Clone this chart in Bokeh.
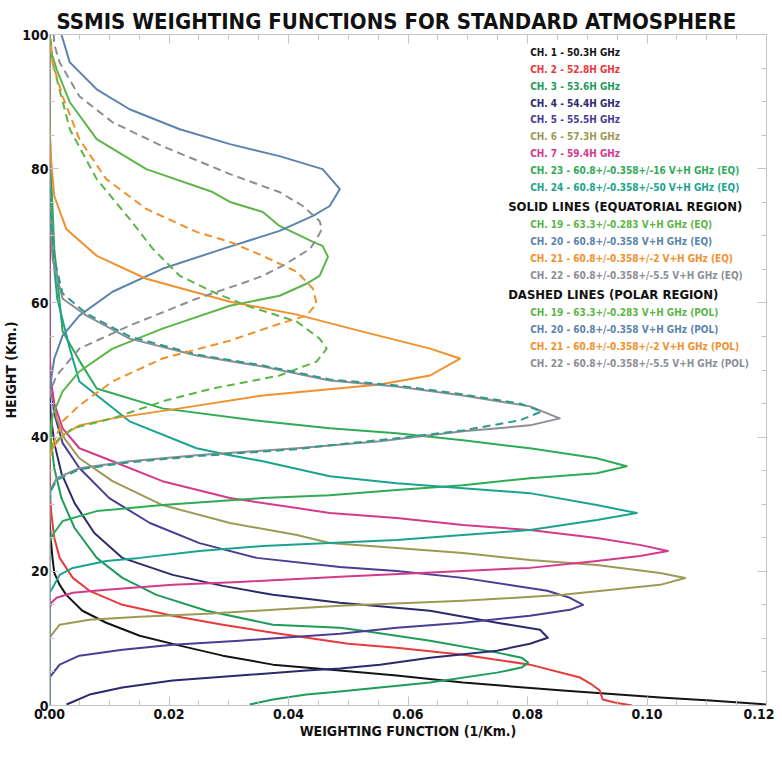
from bokeh.plotting import figure
from bokeh.models import LinearAxis, FixedTicker, ColumnDataSource, Range1d
from bokeh.embed import file_html
from bokeh.resources import INLINE
from bokeh.core.properties import value

FONT = "DejaVu Sans Condensed"

# ---- data: heights (km) and weighting-function values (1/km) ----
ch1_h = [0.15, 0.74, 1.19, 2.23, 3.42, 4.46, 5.2, 6.09, 7.43, 8.92, 10.4, 12.33, 14.12, 16.49, 17.98, 19.76, 22.0, 24.96, 27.93, 100.0]
ch1_w = [0.1199, 0.1106, 0.1022, 0.0859, 0.0692, 0.0581, 0.0486, 0.0374, 0.029, 0.0218, 0.0151, 0.0095, 0.0055, 0.0028, 0.0017, 0.0008, 0.0005, 0.0002, 0.0, 0.0]

ch2_h = [0.0, 0.45, 0.89, 1.63, 2.23, 3.1, 4.16, 6.09, 7.58, 8.62, 9.2, 10.85, 12.04, 13.37, 15.0, 17.09, 19.02, 22.0, 24.96, 28.68, 32.4, 100.0]
ch2_w = [0.0975, 0.0946, 0.0926, 0.0923, 0.0921, 0.0908, 0.0888, 0.0804, 0.0692, 0.0581, 0.05, 0.0374, 0.029, 0.0206, 0.0122, 0.0067, 0.0039, 0.0017, 0.0008, 0.0003, 0.0, 0.0]

ch3_h = [0.15, 0.89, 1.63, 2.08, 2.67, 3.42, 4.9, 5.65, 6.39, 7.13, 7.88, 9.66, 11.14, 11.6, 12.04, 14.12, 16.49, 19.02, 22.0, 26.45, 30.9, 35.36, 39.8, 42.8, 100.0]
ch3_w = [0.0335, 0.0374, 0.043, 0.0486, 0.0553, 0.0637, 0.0749, 0.079, 0.0801, 0.079, 0.0749, 0.0637, 0.0524, 0.0486, 0.0374, 0.0263, 0.0179, 0.0122, 0.0079, 0.0042, 0.002, 0.0008, 0.0002, 0.0, 0.0]

ch4_h = [0.15, 1.63, 2.67, 3.71, 4.46, 5.2, 5.5, 6.09, 7.13, 8.17, 9.21, 10.1, 11.29, 12.33, 14.12, 15.0, 15.3, 16.49, 17.83, 19.47, 22.0, 25.7, 30.16, 34.6, 39.1, 43.5, 47.25, 100.0]
ch4_w = [0.00285, 0.0067, 0.0122, 0.0206, 0.0318, 0.043, 0.0486, 0.0553, 0.0637, 0.0749, 0.0804, 0.0834, 0.0821, 0.0749, 0.0637, 0.0524, 0.0486, 0.0374, 0.029, 0.0206, 0.0122, 0.0075, 0.0042, 0.002, 0.0008, 0.0002, 0.0, 0.0]

ch5_h = [0.0, 4.16, 6.09, 7.43, 8.32, 9.06, 9.66, 10.7, 11.59, 12.33, 13.37, 14.26, 15.0, 16.05, 17.09, 19.02, 20.06, 20.65, 22.0, 24.2, 27.2, 30.9, 35.4, 39.1, 43.5, 48.0, 51.7, 100.0]
ch5_w = [0.0, 0.0, 0.0017, 0.005, 0.0122, 0.0206, 0.0318, 0.0486, 0.0581, 0.0692, 0.0804, 0.0871, 0.0893, 0.0871, 0.0833, 0.0692, 0.0581, 0.0486, 0.0347, 0.0251, 0.0168, 0.01, 0.005, 0.0022, 0.0008, 0.0002, 0.0, 0.0]

ch6_h = [0.0, 10.1, 12.04, 12.78, 13.22, 13.67, 14.26, 14.86, 15.6, 16.49, 17.98, 19.0, 19.76, 20.95, 21.69, 22.73, 23.48, 24.22, 25.41, 27.19, 29.87, 33.43, 36.85, 39.8, 42.8, 47.3, 53.2, 100.0]
ch6_w = [0.0, 0.0, 0.0017, 0.0067, 0.0151, 0.0263, 0.0374, 0.0486, 0.0692, 0.0859, 0.1022, 0.1064, 0.1022, 0.0916, 0.0804, 0.0692, 0.0581, 0.0469, 0.0414, 0.0302, 0.0189, 0.01055, 0.005, 0.0025, 0.0012, 0.0003, 0.0, 0.0]

ch7_h = [0.0, 14.26, 15.3, 16.05, 16.8, 17.24, 17.98, 18.42, 19.17, 20.06, 20.51, 21.55, 22.29, 23.03, 23.9, 24.96, 26.15, 26.89, 27.93, 28.68, 29.42, 30.91, 33.43, 36.4, 38.34, 41.3, 45.0, 48.7, 53.2, 100.0]
ch7_w = [0.0, 0.0, 0.0003, 0.0012, 0.0039, 0.0095, 0.0206, 0.0318, 0.0486, 0.0692, 0.0804, 0.0916, 0.0988, 0.1035, 0.099, 0.0916, 0.0804, 0.0692, 0.0581, 0.0469, 0.0414, 0.0302, 0.0189, 0.01055, 0.005, 0.0022, 0.0008, 0.0002, 0.0, 0.0]

ch23_h = [0.0, 24.2, 25.41, 27.49, 28.97, 29.87, 30.91, 31.35, 32.1, 32.84, 33.88, 34.62, 35.66, 36.85, 38.34, 39.52, 40.56, 41.31, 42.35, 44.28, 47.25, 51.4, 55.72, 68.05, 78.45, 87.4, 100.0]
ch23_w = [0.0, 0.0, 0.0005, 0.0022, 0.0079, 0.0189, 0.0357, 0.0469, 0.0581, 0.0692, 0.0804, 0.0916, 0.0966, 0.0916, 0.0804, 0.0692, 0.0581, 0.0469, 0.0357, 0.0189, 0.0079, 0.005, 0.0022, 0.0008, 0.0003, 0.0, 0.0]

ch24_h = [0.0, 16.8, 17.5, 19.47, 20.5, 21.55, 22.0, 23.03, 23.77, 24.22, 24.67, 25.41, 26.15, 27.64, 28.68, 29.87, 31.65, 32.39, 33.14, 34.18, 36.4, 37.3, 38.34, 42.35, 48.29, 53.2, 60.6, 68.0, 75.5, 82.9, 100.0]
ch24_w = [0.0, 0.0, 0.0005, 0.0017, 0.0039, 0.0095, 0.0151, 0.0251, 0.0357, 0.0469, 0.0581, 0.0692, 0.0804, 0.0916, 0.0983, 0.0916, 0.0804, 0.0692, 0.0581, 0.0469, 0.0357, 0.0302, 0.0246, 0.0134, 0.005, 0.0034, 0.0013, 0.0005, 0.0002, 0.0, 0.0]

# solid lines (equatorial region)
ch19_eq_h = [37.6, 43.24, 46.8, 49.78, 53.19, 56.17, 59.58, 61.07, 62.85, 64.04, 66.87, 68.5, 69.09, 71.47, 73.55, 75.04, 76.52, 79.94, 84.4, 89.9, 94.8, 98.2, 100.0]
ch19_eq_w = [0.0, 0.0005, 0.0022, 0.005, 0.01055, 0.0189, 0.0302, 0.0385, 0.043, 0.0452, 0.0466, 0.0457, 0.0441, 0.0385, 0.0357, 0.0302, 0.0273, 0.0162, 0.0079, 0.0034, 0.0012, 0.0, 0.0]

ch20_eq_h = [45.8, 48.74, 51.7, 55.13, 58.1, 61.66, 65.08, 68.05, 70.73, 72.96, 74.44, 76.97, 79.94, 81.87, 83.66, 85.88, 88.86, 91.83, 95.84, 100.0]
ch20_eq_w = [0.0, 0.0003, 0.0008, 0.0022, 0.005, 0.01055, 0.0189, 0.029, 0.0385, 0.0441, 0.0469, 0.0486, 0.0457, 0.0385, 0.0302, 0.0218, 0.0134, 0.0079, 0.0034, 0.002]

ch21_eq_h = [36.85, 38.34, 40.27, 41.75, 42.79, 44.28, 46.21, 47.85, 49.18, 51.71, 53.19, 55.72, 58.25, 60.18, 63.6, 67.01, 71.03, 75.93, 80.98, 85.9, 100.0]
ch21_eq_w = [0.0, 0.0005, 0.0022, 0.005, 0.01055, 0.0218, 0.0357, 0.0553, 0.0637, 0.0687, 0.0637, 0.0524, 0.0414, 0.0302, 0.0162, 0.0079, 0.0028, 0.0008, 0.0003, 0.0, 0.0]

ch22_eq_h = [0.0, 30.9, 32.39, 33.88, 35.36, 36.4, 37.3, 38.34, 39.38, 40.86, 41.75, 42.79, 44.58, 46.21, 47.55, 48.44, 50.52, 52.15, 54.68, 58.1, 60.62, 66.57, 72.5, 78.45, 100.0]
ch22_eq_w = [0.0, 0.0, 0.0003, 0.0012, 0.005, 0.0134, 0.0246, 0.0414, 0.0553, 0.0692, 0.0804, 0.0854, 0.0804, 0.0692, 0.0581, 0.0469, 0.0357, 0.0246, 0.0134, 0.0062, 0.0022, 0.0005, 0.0002, 0.0, 0.0]

# dashed lines (polar region)
ch19_pol_h = [37.6, 38.78, 39.82, 41.31, 42.79, 45.32, 47.25, 49.18, 51.26, 53.19, 54.68, 57.21, 59.58, 61.66, 64.04, 68.05, 72.51, 78.45, 85.88, 95.84, 99.3]
ch19_pol_w = [0.0, 0.0005, 0.0017, 0.0039, 0.01055, 0.0189, 0.0273, 0.0385, 0.0447, 0.0464, 0.0452, 0.0414, 0.033, 0.0273, 0.0218, 0.0173, 0.0134, 0.0079, 0.0034, 0.0005, 0.0002]

ch20_pol_h = [30.2, 32.1, 33.6, 35.2, 36.25, 37.15, 38.2, 38.78, 39.82, 41.0, 42.5, 43.83, 45.0, 46.36, 47.7, 48.6, 50.67, 52.3, 55.0, 58.4, 61.4, 66.6, 72.5, 77.0]
ch20_pol_w = [0.0, 0.0003, 0.0012, 0.005, 0.0134, 0.0246, 0.0414, 0.0469, 0.0581, 0.0692, 0.0787, 0.0824, 0.0787, 0.0692, 0.0581, 0.0469, 0.0357, 0.0246, 0.0134, 0.0062, 0.0022, 0.0008, 0.0002, 0.0]

ch21_pol_h = [36.85, 38.34, 40.27, 42.35, 44.73, 48.29, 51.71, 54.38, 56.9, 58.1, 59.9, 62.11, 64.64, 67.01, 69.09, 70.58, 74.0, 78.45, 84.4, 90.79, 95.84, 99.3]
ch21_pol_w = [0.0, 0.0003, 0.0012, 0.0022, 0.005, 0.01055, 0.0189, 0.0302, 0.0385, 0.043, 0.0447, 0.0441, 0.0414, 0.0357, 0.0302, 0.0246, 0.0162, 0.0095, 0.005, 0.0022, 0.0005, 0.0002]

ch22_pol_h = [45.8, 47.25, 49.18, 53.19, 56.61, 60.62, 63.15, 64.04, 65.53, 68.05, 69.5, 71.03, 72.2, 74.44, 76.52, 77.4, 79.2, 83.36, 86.92, 90.79, 95.84, 98.5, 100.0]
ch22_pol_w = [0.0, 0.0003, 0.0012, 0.005, 0.0134, 0.0246, 0.033, 0.0357, 0.039, 0.0436, 0.0447, 0.0456, 0.0452, 0.0424, 0.0385, 0.0357, 0.0302, 0.0189, 0.01055, 0.005, 0.0017, 0.0008, 0.0007]

x_ticks = [0.0, 0.02, 0.04, 0.06, 0.08, 0.10, 0.12]
x_tick_labels = ["0.00", "0.02", "0.04", "0.06", "0.08", "0.10", "0.12"]
x_minor = [i * 0.005 for i in range(25)]
y_ticks = [0, 20, 40, 60, 80, 100]
y_tick_labels = ["0", "20", "40", "60", "80", "100"]
y_minor = list(range(0, 101, 5))

legend_top = ["CH.  1 - 50.3H GHz", "CH.  2 - 52.8H GHz", "CH.  3 - 53.6H GHz",
              "CH.  4 - 54.4H GHz", "CH.  5 - 55.5H GHz", "CH.  6 - 57.3H GHz",
              "CH.  7 - 59.4H GHz", "CH. 23 - 60.8+/-0.358+/-16 V+H GHz (EQ)",
              "CH. 24 - 60.8+/-0.358+/-50 V+H GHz (EQ)"]
legend_eq = ["CH. 19 - 63.3+/-0.283 V+H GHz (EQ)", "CH. 20 - 60.8+/-0.358 V+H GHz (EQ)",
             "CH. 21 - 60.8+/-0.358+/-2 V+H GHz (EQ)", "CH. 22 - 60.8+/-0.358+/-5.5 V+H GHz (EQ)"]
legend_pol = ["CH. 19 - 63.3+/-0.283 V+H GHz (POL)", "CH. 20 - 60.8+/-0.358 V+H GHz (POL)",
              "CH. 21 - 60.8+/-0.358+/-2 V+H GHz (POL)", "CH. 22 - 60.8+/-0.358+/-5.5 V+H GHz (POL)"]
header_eq = "SOLID LINES (EQUATORIAL REGION)"
header_pol = "DASHED LINES (POLAR REGION)"

# ---- styles ----
C = {
    "ch1": "#141414", "ch2": "#e8393b", "ch3": "#1f9c5a", "ch4": "#2d2a6c",
    "ch5": "#4b3d93", "ch6": "#9d9a56", "ch7": "#d5398b", "ch23": "#2fab56",
    "ch24": "#1ba38d", "ch19": "#5db548", "ch20": "#5a84ad", "ch21": "#f0912e",
    "ch22": "#8c8e96", "ch20pol": "#2f9a8c",
}
legend_top_colors = [C["ch1"], C["ch2"], C["ch3"], C["ch4"], C["ch5"], C["ch6"], C["ch7"], C["ch23"], C["ch24"]]
legend_sub_colors = [C["ch19"], C["ch20"], C["ch21"], C["ch22"]]

p = figure(width=774, height=741, x_range=Range1d(0, 0.12), y_range=Range1d(0, 100),
           output_backend="svg", toolbar_location=None,
           min_border_left=42, min_border_right=8, min_border_top=34, min_border_bottom=30)
p.xgrid.visible = False
p.ygrid.visible = False
p.outline_line_color = None
p.background_fill_color = "white"
p.border_fill_color = "white"

p.title.text = "SSMIS WEIGHTING FUNCTIONS FOR STANDARD ATMOSPHERE"
p.title.align = "left"
p.title.offset = 7
p.title.text_font = FONT
p.title.text_font_size = "22px"
p.title.text_font_style = "bold"
p.title.text_color = "#111111"
p.title.standoff = 2

AX = "#c4c4c4"
def style_axis(ax, ticks, minor, labels):
    ax.ticker = FixedTicker(ticks=ticks, minor_ticks=minor)
    ax.axis_line_color = AX
    ax.major_tick_line_color = AX
    ax.minor_tick_line_color = AX
    ax.major_tick_in = 9
    ax.major_tick_out = 0
    ax.minor_tick_in = 5
    ax.minor_tick_out = 0
    ax.major_label_text_font = FONT
    ax.major_label_text_font_style = "bold"
    ax.major_label_text_font_size = "14px"
    ax.major_label_text_color = "#111111"
    ax.axis_label_text_font = FONT
    ax.axis_label_text_font_style = "bold"
    ax.axis_label_text_font_size = "14px"
    ax.axis_label_text_color = "#111111"
    ax.major_label_overrides = labels

style_axis(p.xaxis[0], x_ticks, x_minor, dict(zip(x_ticks, x_tick_labels)))
style_axis(p.yaxis[0], y_ticks, y_minor, dict(zip(y_ticks, y_tick_labels)))
p.xaxis[0].axis_label = "WEIGHTING FUNCTION (1/Km.)"
p.yaxis[0].axis_label = "HEIGHT (Km.)"
p.xaxis[0].major_label_standoff = 3
p.xaxis[0].axis_label_standoff = 1
p.yaxis[0].major_label_standoff = 1
p.yaxis[0].axis_label_standoff = 0

top = LinearAxis()
style_axis(top, x_ticks, x_minor, {t: "" for t in x_ticks})
top.major_label_standoff = 0
top.major_label_text_font_size = "1px"
p.add_layout(top, "above")
right = LinearAxis()
style_axis(right, y_ticks, y_minor, {t: "" for t in y_ticks})
right.major_label_standoff = 0
right.major_label_text_font_size = "1px"
p.add_layout(right, "right")

LW = 2.0
series = [
    (ch1_w, ch1_h, C["ch1"], "solid"), (ch2_w, ch2_h, C["ch2"], "solid"),
    (ch3_w, ch3_h, C["ch3"], "solid"), (ch4_w, ch4_h, C["ch4"], "solid"),
    (ch5_w, ch5_h, C["ch5"], "solid"), (ch6_w, ch6_h, C["ch6"], "solid"),
    (ch7_w, ch7_h, C["ch7"], "solid"), (ch23_w, ch23_h, C["ch23"], "solid"),
    (ch24_w, ch24_h, C["ch24"], "solid"),
    (ch19_eq_w, ch19_eq_h, C["ch19"], "solid"), (ch20_eq_w, ch20_eq_h, C["ch20"], "solid"),
    (ch21_eq_w, ch21_eq_h, C["ch21"], "solid"), (ch22_eq_w, ch22_eq_h, C["ch22"], "solid"),
    (ch19_pol_w, ch19_pol_h, C["ch19"], "8 5"), (ch20_pol_w, ch20_pol_h, C["ch20pol"], "8 5"),
    (ch21_pol_w, ch21_pol_h, C["ch21"], "8 5"), (ch22_pol_w, ch22_pol_h, C["ch22"], "8 5"),
]
for xs, ys, col, dash in series:
    p.line(xs, ys, line_color=col, line_width=LW, line_dash=dash, line_join="round")

# ---- legend text block (placed in the frame's data space, from picture pixels) ----
FR_L, FR_R, FR_T, FR_B = 50.0, 766.0, 35.0, 705.0
def px_to_w(x_px):
    return (x_px - FR_L) / (FR_R - FR_L) * 0.12
def px_to_h(y_px):
    return (FR_B - y_px) / (FR_B - FR_T) * 100.0

rows_top_y = [53 + i * 16.8 for i in range(9)]
rows_eq_y = [225 + i * 17 for i in range(4)]
rows_pol_y = [313 + i * 16.8 for i in range(4)]

src = ColumnDataSource(dict(
    x=[px_to_w(530)] * 17,
    y=[px_to_h(v) for v in rows_top_y + rows_eq_y + rows_pol_y],
    t=legend_top + legend_eq + legend_pol,
    c=legend_top_colors + legend_sub_colors + legend_sub_colors,
))
p.text(x="x", y="y", text="t", text_color="c", source=src, text_font=value(FONT),
       text_font_size="10px", text_font_style="bold", text_baseline="middle", text_align="left")
hsrc = ColumnDataSource(dict(x=[px_to_w(508)] * 2, y=[px_to_h(207), px_to_h(295)], t=[header_eq, header_pol]))
p.text(x="x", y="y", text="t", source=hsrc, text_color="#111111", text_font=value(FONT),
       text_font_size="13px", text_font_style="bold", text_baseline="middle", text_align="left")

open("out.html", "w").write(file_html(p, INLINE))
